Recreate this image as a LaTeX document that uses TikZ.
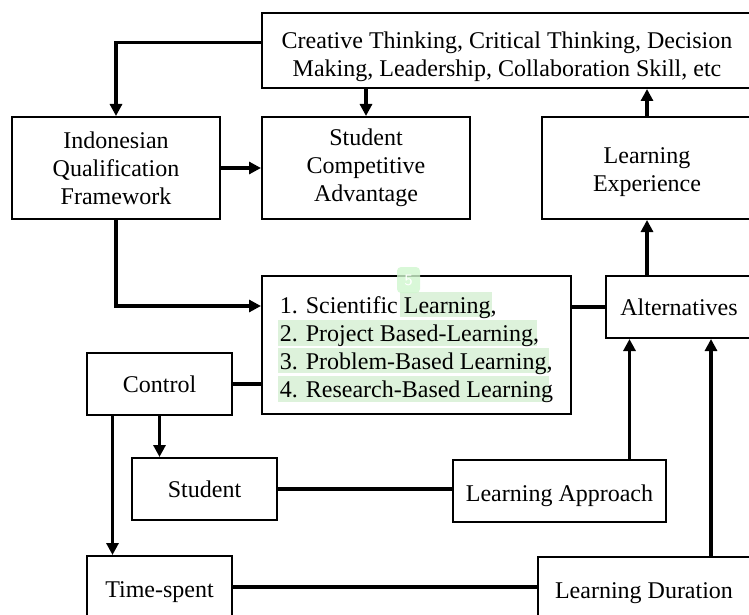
\documentclass[tikz,border=0pt]{standalone}
\usepackage{fontspec}
\setmainfont{Liberation Serif}
\usetikzlibrary{arrows.meta}
\definecolor{hlgreen}{RGB}{221,242,219}

\begin{document}
\begin{tikzpicture}[x=0.5pt, y=-0.5pt,
    box/.style = {draw, line width=1pt, align=center, inner sep=0pt,
        font=\fontsize{12}{14}\selectfont},
    low/.style = {text height=12pt, text depth=2pt},
    link/.style = {line width=1.6pt},
    >={Triangle[length=6pt, width=6pt]}]
    \useasboundingbox (0,0) rectangle (749,615);
    \clip (0,0) rectangle (749,615);
    \fill[white] (0,0) rectangle (749,615);

    \fill[hlgreen] (400,292) rectangle (492,317);
    \fill[hlgreen] (278,320) rectangle (537,346);
    \fill[hlgreen] (278,348) rectangle (549,373);
    \fill[hlgreen] (278,376) rectangle (549,402);

    \node[box, minimum width=245pt, minimum height=37.5pt] (skills) at (507,50.5)
        {\rule{0pt}{14.2pt}Creative Thinking, Critical Thinking, Decision\\ Making, Leadership, Collaboration Skill, etc};
    \node[box, minimum width=104pt, minimum height=51pt] (iqf) at (116,168)
        {Indonesian\\ Qualification\\ Framework};
    \node[box, minimum width=104pt, minimum height=51pt] (sca) at (366,168)
        {Student\\ Competitive\\ Advantage};
    \node[box, minimum width=105pt, minimum height=51pt] (lexp) at (647,168)
        {\rule{0pt}{12.2pt}Learning\\ Experience};
    \node[box, align=left, minimum width=154.5pt, minimum height=69pt] (list) at (416.5,345)
        {\rule{0pt}{12.7pt}1. Scientific Learning,\\ 2. Project Based-Learning,\\ 3. Problem-Based Learning,\\ 4. Research-Based Learning};
    \node[box, minimum width=73pt, minimum height=31pt] (alt) at (679,307) {Alternatives};
    \node[box, minimum width=72.5pt, minimum height=31pt] (ctrl) at (159.5,384) {Control};
    \node[box, minimum width=72.5pt, minimum height=31pt] (stud) at (204.5,489) {Student};
    \node[box, low, minimum width=106.5pt, minimum height=31pt] (lapp) at (559.5,491) {Learning Approach};
    \node[box, low, minimum width=72.5pt, minimum height=31pt] (time) at (159.5,587) {Time-spent};
    \node[box, low, minimum width=106pt, minimum height=31pt] (ldur) at (644,588) {Learning Duration};

    \fill[hlgreen!85!green!70!white, opacity=0.8, rounded corners=2pt] (397,267) rectangle (420,293);
    \node[text=white, font=\sffamily\fontsize{8}{8}\selectfont] (tag) at (408.5,280) {5};

    \draw[link, ->] ([yshift=4pt]skills.west) -| (iqf.north);
    \draw[link, ->] (skills.south -| sca.north) -- (sca.north);
    \draw[link, ->] (iqf.east) -- (sca.west);
    \draw[link, ->] (iqf.south) |- ([yshift=19.5pt]list.west);
    \draw[link] (ctrl.east) -- (ctrl.east -| list.west);
    \draw[link] (alt.west -| list.east) -- (alt.west);
    \draw[link, ->] (alt.north -| lexp.south) -- (lexp.south);
    \draw[link, ->] (lexp.north) -- (lexp.north |- skills.south);
    \draw[link, ->] ([xshift=35pt]lapp.north) -- ([xshift=35pt]lapp.north |- alt.south);
    \draw[link, ->] ([xshift=33.5pt]ldur.north) -- ([xshift=33.5pt]ldur.north |- alt.south);
    \draw[link, ->] ([xshift=-23.5pt]ctrl.south) -- ([xshift=-23.5pt]ctrl.south |- time.north);
    \draw[link, ->] (ctrl.south) -- (ctrl.south |- stud.north);
    \draw[link] (stud.east) -- (stud.east -| lapp.west);
    \draw[link] (time.east) -- (time.east -| ldur.west);
\end{tikzpicture}
\end{document}
